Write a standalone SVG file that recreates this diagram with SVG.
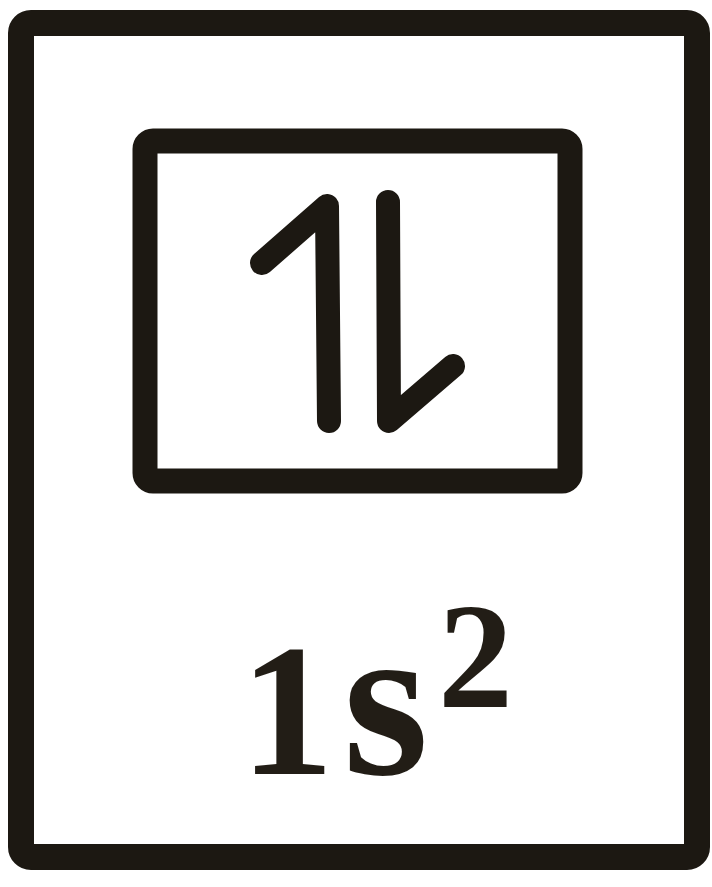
<svg xmlns="http://www.w3.org/2000/svg" width="712" height="887" viewBox="0 0 712 887">
<style>
.box{fill:none;stroke:#1c1812;stroke-linejoin:round}
.arrow{fill:none;stroke:#1c1812;stroke-width:24;stroke-linecap:round;stroke-linejoin:round}
.lbl{font-family:"Liberation Serif","Times New Roman",serif;font-weight:bold;fill:#221d16}
</style>
<rect width="712" height="887" fill="#ffffff"/>
<g id="outer-box">
<rect class="box" x="21" y="23" width="676" height="834" rx="10" stroke-width="26"/>
</g>
<g id="orbital">
<rect class="box" x="145" y="141" width="425" height="340" rx="8" stroke-width="25"/>
<path class="arrow" d="M262,263 L327,206 L329,421"/>
<path class="arrow" d="M388,202 L389,421 L453,366"/>
</g>
<g id="label">
<text class="lbl" y="774"><tspan x="240" font-size="188">1</tspan><tspan x="343" font-size="220">s</tspan><tspan x="438" y="707" font-size="150">2</tspan></text>
</g>
</svg>
